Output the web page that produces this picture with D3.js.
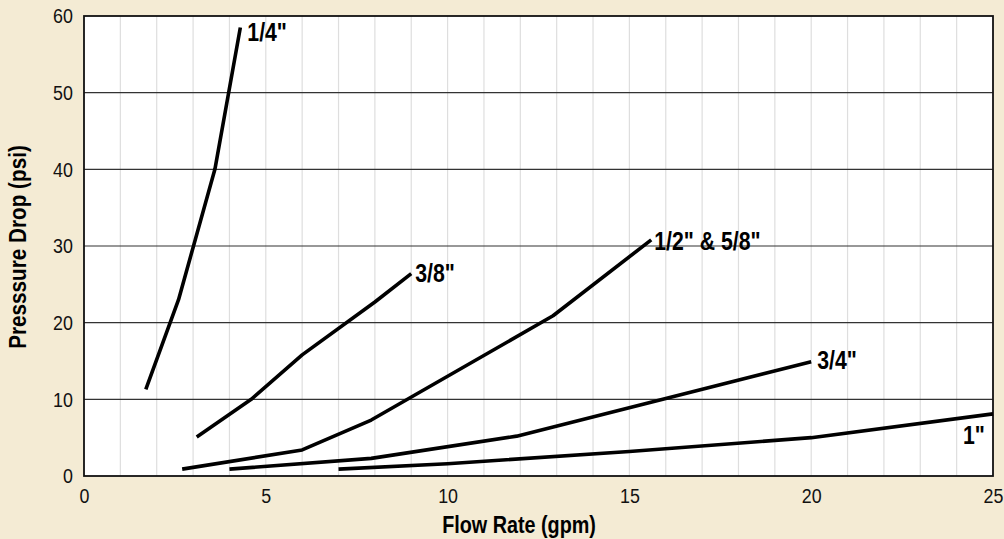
<!DOCTYPE html>
<html>
<head>
<meta charset="utf-8">
<script src="https://cdn.jsdelivr.net/npm/d3@7"></script>
<style>
  body { margin: 0; background: #f4ebd4; }
  svg { display: block; font-family: "Liberation Sans", Arial, sans-serif; }
</style>
</head>
<body>
<svg id="chart" width="1004" height="539"></svg>
<script>
// values
const xTicks = [0, 5, 10, 15, 20, 25]
const yTicks = [0, 10, 20, 30, 40, 50, 60]
const sizes = ['1/4"', '3/8"', '1/2" & 5/8"', '3/4"', '1"']
const quarter = [[1.7, 11.3], [2.6, 23], [3.6, 40], [4.3, 58.5]]
const threeEighths = [[3.1, 5.1], [4.6, 10], [6, 15.8], [8, 22.7], [9, 26.4]]
const halfFiveEighths = [[2.7, 0.9], [6, 3.4], [7.9, 7.3], [12.9, 20.9], [15.6, 30.8]]
const threeQuarter = [[4, 0.9], [7.9, 2.3], [11.9, 5.2], [20, 14.9]]
const oneInch = [[7, 0.9], [10, 1.6], [15, 3.2], [20, 5], [25, 8.1]]
const series = [quarter, threeEighths, halfFiveEighths, threeQuarter, oneInch]

const narrow = 'scale(0.85,1)' // fake a condensed face

const margin = { top: 16, right: 11, bottom: 63, left: 84 }
const svg = d3.select('#chart')
const width = 1004 - margin.left - margin.right
const height = 539 - margin.top - margin.bottom

const g = svg.append('g').attr('transform', 'translate(' + margin.left + ',' + margin.top + ')')

const x = d3.scaleLinear().domain([0, 25]).range([0, width])
const y = d3.scaleLinear().domain([0, 60]).range([height, 0])

g.append('rect').attr('width', width).attr('height', height).attr('fill', '#fff')

// light vertical grid, one per gpm
g.append('g')
    .selectAll('line')
    .data(d3.range(1, 25))
    .join('line')
    .attr('x1', d => x(d)).attr('x2', d => x(d))
    .attr('y1', 0).attr('y2', height)
    .attr('stroke', '#dedede').attr('stroke-width', 1.2)

// horizontal grid
g.append('g')
    .selectAll('line')
    .data(yTicks.slice(1, -1))
    .join('line')
    .attr('x1', 0).attr('x2', width)
    .attr('y1', d => y(d)).attr('y2', d => y(d))
    .attr('stroke', '#333').attr('stroke-width', 1.2)

g.append('rect').attr('width', width).attr('height', height)
    .attr('fill', 'none').attr('stroke', '#111').attr('stroke-width', 1.8)

const xAxis = g.append('g').attr('transform', 'translate(0,' + height + ')')
    .call(d3.axisBottom(x).tickValues(xTicks).tickSize(0).tickPadding(12))
xAxis.select('.domain').remove()
xAxis.selectAll('.tick text')
    .attr('font-size', 21).attr('fill', '#111').attr('font-family', null)
    .attr('transform', narrow)

const yAxis = g.append('g')
    .call(d3.axisLeft(y).tickValues(yTicks).tickSize(0).tickPadding(13))
yAxis.select('.domain').remove()
yAxis.selectAll('.tick text')
    .attr('font-size', 21).attr('fill', '#111').attr('font-family', null)
    .attr('transform', narrow)

const line = d3.line().x(d => x(d[0])).y(d => y(d[1]))

g.append('g')
    .selectAll('path')
    .data(series)
    .join('path')
    .attr('d', line)
    .attr('fill', 'none')
    .attr('stroke', '#000')
    .attr('stroke-width', 3.6)
    .attr('stroke-linejoin', 'round')

// curve labels, placed off each curve's last point
const labelPos = [
    { dx: 7, dy: 13 },
    { dx: 4, dy: 8 },
    { dx: 3, dy: 10 },
    { dx: 6, dy: 7 },
    { dx: -30, dy: 30 }
]
g.append('g')
    .selectAll('text')
    .data(series)
    .join('text')
    .attr('transform', (d, i) => 'translate(' + (x(d[d.length - 1][0]) + labelPos[i].dx) + ','
        + (y(d[d.length - 1][1]) + labelPos[i].dy) + ') ' + narrow)
    .attr('font-size', 25)
    .attr('font-weight', 'bold')
    .text((d, i) => sizes[i])

svg.append('text')
    .text('Flow Rate (gpm)')
    .attr('transform', 'translate(519,533) scale(0.86,1)')
    .attr('text-anchor', 'middle')
    .attr('font-size', 23)
    .attr('font-weight', 'bold')

svg.append('text')
    .text('Presssure Drop (psi)')
    .attr('transform', 'translate(26,' + (margin.top + height / 2 + 1) + ') rotate(-90) scale(0.9,1)')
    .attr('text-anchor', 'middle')
    .attr('font-size', 23)
    .attr('font-weight', 'bold')
</script>
</body>
</html>
